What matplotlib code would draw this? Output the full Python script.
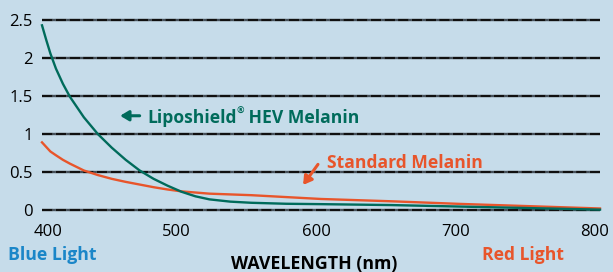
import matplotlib.pyplot as plt
from matplotlib.transforms import ScaledTranslation

# wavelength (nm) and absorbance
wavelength = [400, 403, 406, 410, 415, 420, 430, 440, 450, 460, 470, 480, 490, 500,
              510, 520, 535, 550, 575, 600, 650, 700, 750, 800]
liposhield = [2.43, 2.24, 2.06, 1.86, 1.66, 1.49, 1.22, 1.0, 0.82, 0.66, 0.52, 0.41, 0.32, 0.24,
              0.18, 0.14, 0.11, 0.095, 0.082, 0.077, 0.065, 0.045, 0.025, 0.005]
standard = [0.89, 0.83, 0.77, 0.72, 0.66, 0.61, 0.52, 0.46, 0.41, 0.37, 0.335, 0.30, 0.27, 0.245,
            0.23, 0.215, 0.205, 0.195, 0.17, 0.145, 0.115, 0.08, 0.05, 0.02]
xticks = [400, 500, 600, 700, 800]
yticks = [0, 0.5, 1, 1.5, 2, 2.5]
ytick_labels = ["0", "0.5", "1", "1.5", "2", "2.5"]

bg = "#c6dcea"
green = "#006b5b"
orange = "#e8552b"
blue = "#1a86c8"

plt.rcParams["font.family"] = ["Open Sans", "DejaVu Sans"]

fig = plt.figure(figsize=(6.13, 2.72), dpi=100)
fig.patch.set_facecolor(bg)
ax = fig.add_axes([42 / 613, 62 / 272, 558 / 613, 190 / 272])
ax.set_facecolor(bg)

for y in yticks:
    ax.axhline(y, color="#101010", lw=1.7, linestyle=(0, (4.5, 1.3)),
               gapcolor="#45505a", clip_on=False, zorder=1)

ax.plot(wavelength, standard, color=orange, lw=1.7, zorder=3, clip_on=False)
ax.plot(wavelength, liposhield, color=green, lw=1.7, zorder=3, clip_on=False)

ax.set_xlim(400, 800)
ax.set_ylim(0, 2.5)
ax.set_xticks(xticks)
ax.set_yticks(yticks)
ax.set_yticklabels(ytick_labels)
ax.tick_params(length=0, labelsize=12, colors="black")
ax.tick_params(axis="y", pad=6.5)
ax.tick_params(axis="x", pad=10)
for s in ax.spines.values():
    s.set_visible(False)

# small label nudges like the original
for lbl, dx in zip(ax.get_xticklabels(), [6, -5, -5, -5, -5]):
    lbl.set_transform(lbl.get_transform() + ScaledTranslation(dx / 100, 0, fig.dpi_scale_trans))

# annotations
ax.annotate("", xy=(454, 1.24), xytext=(472, 1.24),
            arrowprops=dict(arrowstyle="-|>,head_length=0.5,head_width=0.3", color=green, lw=2.2))
t1 = ax.text(475.5, 1.24, "Liposhield", color=green, fontsize=12.6, fontweight="bold",
             va="center_baseline", ha="left")
t2 = ax.annotate("®", xy=(1, 0.6), xycoords=t1, color=green, fontsize=6.5,
                 fontweight="bold", va="bottom", ha="left")
ax.annotate(" HEV Melanin", xy=(1, 0), xycoords=(t2, t1), color=green, fontsize=12.6,
            fontweight="bold", va="bottom", ha="left")

ax.annotate("", xy=(586, 0.30), xytext=(599, 0.63),
            arrowprops=dict(arrowstyle="-|>,head_length=0.5,head_width=0.3", color=orange, lw=2.2))
ax.text(604, 0.645, "Standard Melanin", color=orange, fontsize=12.6, fontweight="bold",
        va="center_baseline", ha="left")

fig.text(8 / 613, 1 - 255 / 272, "Blue Light", color=blue, fontsize=12.7, fontweight="bold",
         va="center", ha="left")
fig.text(482 / 613, 1 - 255 / 272, "Red Light", color=orange, fontsize=12.6, fontweight="bold",
         va="center", ha="left")
fig.text(314 / 613, 1 - 264 / 272, "WAVELENGTH (nm)", color="black", fontsize=12.8,
         fontweight="bold", va="center", ha="center")

fig.savefig("out.png", dpi=100, facecolor=bg)
